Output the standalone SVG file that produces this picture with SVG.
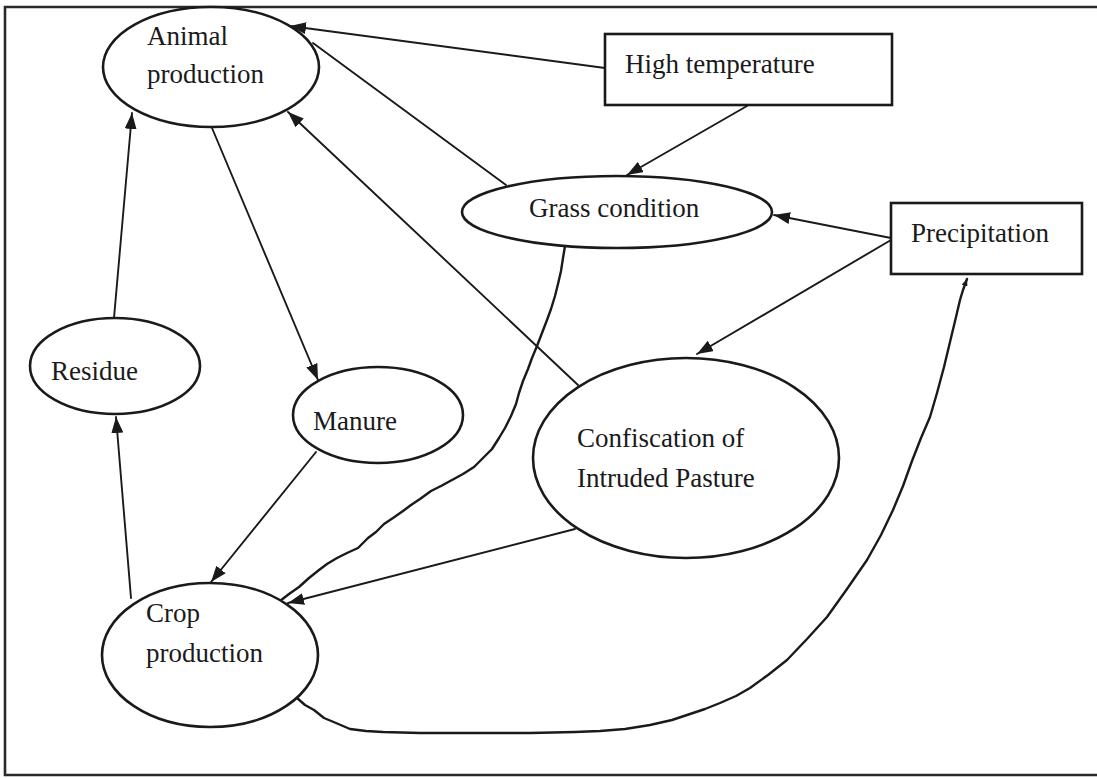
<svg xmlns="http://www.w3.org/2000/svg" width="1097" height="778" viewBox="0 0 1097 778">
<style>
.node{fill:#fff;stroke:#1a1a1a;stroke-width:2.6}
.lbl{font-family:"Liberation Serif","Times New Roman",serif;font-size:27px;fill:#1a1a1a}
.c{fill:none;stroke:#1a1a1a;stroke-width:1.9;stroke-linejoin:round;stroke-linecap:round}
.frame{fill:none;stroke:#2a2a2a;stroke-width:2.6}
</style>
<defs>
<marker id="ah" markerWidth="16" markerHeight="12" refX="16" refY="6" orient="auto" markerUnits="userSpaceOnUse"><path d="M0,0 L16,6 L0,12 z" fill="#1a1a1a"/></marker>
<marker id="ahs" markerWidth="7" markerHeight="6" refX="7" refY="3" orient="auto" markerUnits="userSpaceOnUse"><path d="M0,0 L7,3 L0,6 z" fill="#1a1a1a"/></marker>
</defs>
<rect width="1097" height="778" fill="#fff"/>
<path class="frame" d="M1100,7 L5,7 L5,775 L1100,775"/>
<g id="connectors">
<path class="c" d="M605,68 L290,26" marker-end="url(#ah)"/>
<path class="c" d="M506,185 L313,43"/>
<path class="c" d="M578,385 L288,112" marker-end="url(#ah)"/>
<path class="c" d="M114,318 L132,113" marker-end="url(#ah)"/>
<path class="c" d="M212,128 L318,380" marker-end="url(#ah)"/>
<path class="c" d="M131,598 L116,417" marker-end="url(#ah)"/>
<path class="c" d="M316,452 L211,582" marker-end="url(#ah)"/>
<path class="c" d="M575,529 L288,603" marker-end="url(#ah)"/>
<path class="c" d="M747,106 L627,175" marker-end="url(#ah)"/>
<path class="c" d="M891,238 L774,215" marker-end="url(#ah)"/>
<path class="c" d="M891,240 L697,354" marker-end="url(#ah)"/>
<polyline class="c" style="stroke-width:2.4" points="565,246 563,258 561,271 558,284 555,296 551,309 547,320 542,333 537,346 532,358 528,369 523,381 519,393 516,404 511,416 505,428 499,438 492,449 484,457 474,467 463,474 452,480 441,486 431,491 420,499 411,505 403,511 393,518 384,524 376,532 368,538 358,548 347,553 337,558 327,564 319,570 309,578 299,587 289,594 280,601"/>
<polyline class="c" style="stroke-width:2.4" points="297,698 305,705 314,710 324,718 336,723 350,729 366,731 383,732 420,733 470,733 530,733 575,732 600,731 625,729 650,725 672,720 690,714 705,709 720,703 736,696 750,688 768,675 787,660 807,639 827,617 847,589 867,560 881,535 893,510 903,486 912,461 921,438 930,417 937,393 944,367 950,342 956,317 960,300 963,290 967,279" marker-end="url(#ahs)"/>
</g>
<g id="animal-production">
<ellipse class="node" cx="211" cy="67" rx="108" ry="60"/>
<text class="lbl" x="147" y="45">Animal</text>
<text class="lbl" x="147" y="83">production</text>
</g>
<g id="high-temperature">
<rect class="node" x="605" y="34" width="287" height="71"/>
<text class="lbl" x="625" y="73">High temperature</text>
</g>
<g id="grass-condition">
<ellipse class="node" cx="617" cy="212" rx="155" ry="36"/>
<text class="lbl" x="529" y="217">Grass condition</text>
</g>
<g id="precipitation">
<rect class="node" x="891" y="203" width="191" height="71"/>
<text class="lbl" x="911" y="242">Precipitation</text>
</g>
<g id="residue">
<ellipse class="node" cx="115" cy="366" rx="85" ry="48"/>
<text class="lbl" x="51" y="380">Residue</text>
</g>
<g id="manure">
<ellipse class="node" cx="378" cy="415" rx="85" ry="48"/>
<text class="lbl" x="313" y="430">Manure</text>
</g>
<g id="confiscation">
<ellipse class="node" cx="686" cy="458" rx="153" ry="100"/>
<text class="lbl" x="577" y="447">Confiscation of</text>
<text class="lbl" x="577" y="487">Intruded Pasture</text>
</g>
<g id="crop-production">
<ellipse class="node" cx="210" cy="655" rx="108" ry="72"/>
<text class="lbl" x="146" y="622">Crop</text>
<text class="lbl" x="146" y="662">production</text>
</g>
</svg>
